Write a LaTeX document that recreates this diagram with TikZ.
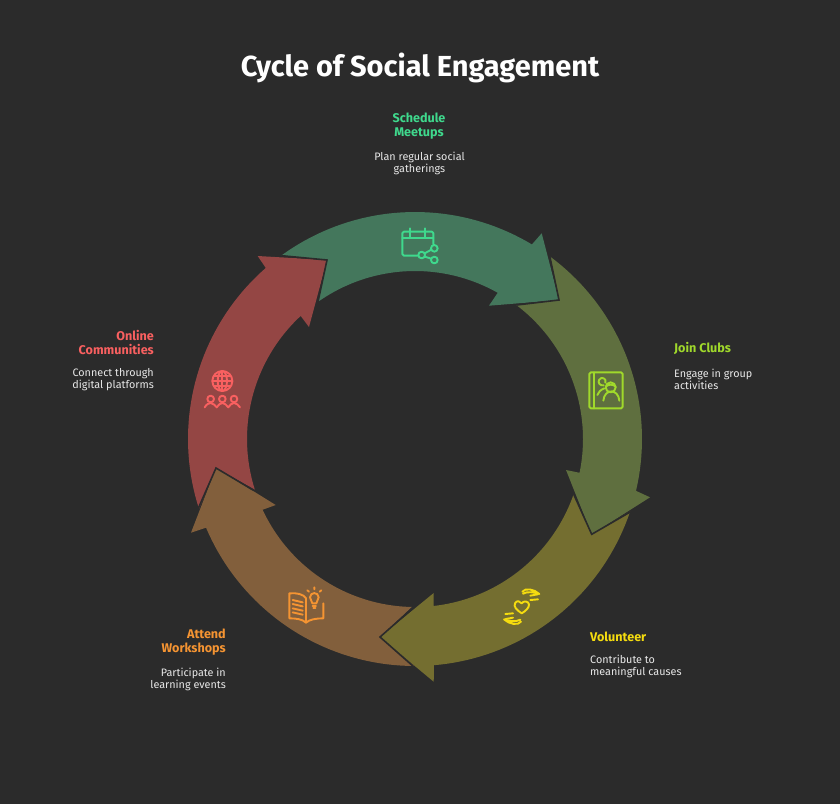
\documentclass[tikz,border=0pt]{standalone}
\usepackage{fontspec}
\setmainfont{Fira Sans}
\definecolor{bgc}{HTML}{2B2B2B}
\definecolor{fgreen}{HTML}{44775C}
\definecolor{fyg}{HTML}{5F6F3F}
\definecolor{folive}{HTML}{746E30}
\definecolor{fbrown}{HTML}{825F3C}
\definecolor{fred}{HTML}{944644}
\definecolor{igreen}{HTML}{3FD98D}
\definecolor{iyg}{HTML}{A0D92B}
\definecolor{iyel}{HTML}{F5DC0F}
\definecolor{iorg}{HTML}{F59432}
\definecolor{ired}{HTML}{F96060}
\definecolor{txt}{HTML}{E8E8E8}
\tikzset{
  seam/.style={draw=bgc,line width=1.6pt,line join=miter},
  ticon/.style={line width=1.9pt,line cap=round,line join=round},
  head/.style={font=\fontsize{12.6}{14}\selectfont\bfseries,inner sep=0pt},
  desc/.style={font=\fontsize{10.8}{12}\selectfont,text=txt,inner sep=0pt},
}
\begin{document}
\begin{tikzpicture}[x=1pt,y=-1pt]
\useasboundingbox (0,0) rectangle (840,804);
\fill[bgc] (0,0) rectangle (840,804);
% ring segments: each tail is notched by the tip of the arrow behind it
\fill[fgreen] plot[domain=234:301,samples=40] ({415+227*cos(\x)},{439+227*sin(\x)}) -- (541.7,233.3) -- (559,300) -- (489,305.7) -- plot[domain=299.5:234.8,samples=40] ({415+168*cos(\x)},{439+168*sin(\x)}) -- (327,260) -- cycle;
\fill[fyg] plot[domain=306.6:373.2,samples=40] ({415+227*cos(\x)},{439+227*sin(\x)}) -- (650,497.3) -- (591.7,534.3) -- (566,470) -- plot[domain=371.6:307.2,samples=40] ({415+168*cos(\x)},{439+168*sin(\x)}) -- (559,300) -- cycle;
\fill[folive] plot[domain=18.6:85.2,samples=40] ({415+227*cos(\x)},{439+227*sin(\x)}) -- (433.7,681.7) -- (380,637) -- (433.7,593) -- plot[domain=83.6:19.4,samples=40] ({415+168*cos(\x)},{439+168*sin(\x)}) -- (591.7,534.3) -- cycle;
\fill[fbrown] plot[domain=90.2:157,samples=40] ({415+227*cos(\x)},{439+227*sin(\x)}) -- (191,532.7) -- (216,468) -- (275.7,505) -- plot[domain=155.1:91.1,samples=40] ({415+168*cos(\x)},{439+168*sin(\x)}) -- (380,637) -- cycle;
\fill[fred] plot[domain=162.1:228.9,samples=40] ({415+227*cos(\x)},{439+227*sin(\x)}) -- (257.7,256) -- (327,260) -- (309,327) -- plot[domain=227.1:162.5,samples=40] ({415+168*cos(\x)},{439+168*sin(\x)}) -- (216,468) -- cycle;
% dark front edges of the heads
\draw[seam] (550,257.3) -- (559,300) -- (516.7,305);
\draw[seam] (630.7,511.7) -- (591.7,534.3) -- (574,495);
\draw[seam] (414,667) -- (380,637) -- (411.7,609);
\draw[seam] (198,509) -- (216,468) -- (253,490);
\draw[seam] (281.7,255.7) -- (327,260) -- (318,301.7);
% calendar icon
\begin{scope}[shift={(385,215)},x=0.3333pt,y=-0.3333pt,draw=igreen,ticon]
\draw[rounded corners=1.5pt] (98,122) -- (52,122) -- (52,50) -- (145,50) -- (145,88);
\draw (52,70) -- (145,70);
\draw (75,40) -- (75,65) (120,40) -- (120,65);
\draw (110,120) circle[radius=10];
\draw (148,100) circle[radius=10];
\draw (148,135) circle[radius=10];
\draw (119,115) -- (139,104) (119,125) -- (139,131);
\end{scope}
% book with people
\begin{scope}[shift={(575,360)},x=0.3333pt,y=-0.3333pt,draw=iyg,ticon]
\draw[rounded corners=1.5pt] (43,37) rectangle (143,145);
\draw (57,37) -- (57,145);
\draw (107,82) circle[radius=15];
\draw (92,80) .. controls (100,72) and (115,72) .. (122,80);
\draw (85,122) .. controls (88,85) and (130,85) .. (133,122);
\draw (91,68) .. controls (96,55) and (78,48) .. (72,60) .. controls (68,68) and (75,78) .. (86,76);
\draw (67,105) .. controls (70,95) and (77,90) .. (88,85);
\end{scope}
% hands with heart
\begin{scope}[shift={(495,575)},x=0.3333pt,y=-0.3333pt,draw=iyel,ticon]
\draw (80,115) .. controls (65,105) and (55,95) .. (60,85) .. controls (65,75) and (76,78) .. (80,85) .. controls (86,76) and (100,78) .. (102,88) .. controls (103,98) and (92,108) .. (80,115) -- cycle;
\draw (82,50) .. controls (90,38) and (118,42) .. (133,57) .. controls (118,52) and (98,48) .. (84,56);
\draw (106,62) -- (128,58) (106,75) -- (129,73);
\draw (78,140) .. controls (70,152) and (42,148) .. (27,133) .. controls (42,138) and (62,142) .. (76,134);
\draw (54,128) -- (32,132) (54,115) -- (31,117);
\end{scope}
% open book with bulb
\begin{scope}[shift={(280,580)},x=0.3333pt,y=-0.3333pt,draw=iorg,ticon]
\draw (78,55) .. controls (70,42) and (50,38) .. (28,40) -- (28,115) .. controls (50,115) and (68,118) .. (78,128) .. controls (88,118) and (110,115) .. (130,115) -- (130,70);
\draw (78,55) -- (78,128);
\draw (38,60) -- (68,67) (38,72) -- (68,79) (38,85) -- (68,92) (38,97) -- (68,104);
\draw (97,70) .. controls (97,62) and (90,60) .. (90,52) .. controls (90,35) and (116,35) .. (116,52) .. controls (116,60) and (109,62) .. (109,70) -- cycle;
\draw (98,78) -- (108,78) (100,85) -- (106,85);
\draw (103,28) -- (103,22) (87,35) -- (82,31) (119,35) -- (124,31);
\end{scope}
% globe with people
\begin{scope}[shift={(195,365)},x=0.3333pt,y=-0.3333pt,draw=ired,ticon]
\draw (82,48) circle[radius=30];
\draw (82,48) ellipse[x radius=14,y radius=30];
\draw (82,18) -- (82,78) (52,48) -- (112,48) (57,34) -- (107,34) (57,62) -- (107,62);
\draw (47,102) circle[radius=10] (82,102) circle[radius=10] (117,102) circle[radius=10];
\draw (29,127) .. controls (35,117) and (42,114) .. (47,114) .. controls (55,114) and (60,122) .. (65,127) .. controls (70,120) and (76,114) .. (82,114) .. controls (88,114) and (95,120) .. (100,127) .. controls (105,120) and (110,114) .. (117,114) .. controls (124,114) and (130,120) .. (135,127);
\end{scope}
% texts
\node[font=\fontsize{29}{32}\selectfont\bfseries,text=white,inner sep=0pt] (title) at (420,68) {Cycle of Social Engagement};
\node[head,text=igreen,align=center] (h1) at (419,126.5) {Schedule\\Meetups};
\node[desc,align=center] (d1) at (419.5,163.5) {Plan regular social\\gatherings};
\node[head,text=iyg,anchor=west] (h2) at (674,348.5) {Join Clubs};
\node[desc,align=left,anchor=west] (d2) at (674,379.5) {Engage in group\\activities};
\node[head,text=iyel,anchor=west] (h3) at (590,636.5) {Volunteer};
\node[desc,align=left,anchor=west] (d3) at (590,666.5) {Contribute to\\meaningful causes};
\node[head,text=iorg,align=right,anchor=east] (h4) at (226,642.5) {Attend\\Workshops};
\node[desc,align=right,anchor=east] (d4) at (226,679.5) {Participate in\\learning events};
\node[head,text=ired,align=right,anchor=east] (h5) at (154,342.5) {Online\\Communities};
\node[desc,align=right,anchor=east] (d5) at (154,379.5) {Connect through\\digital platforms};
\end{tikzpicture}
\end{document}
